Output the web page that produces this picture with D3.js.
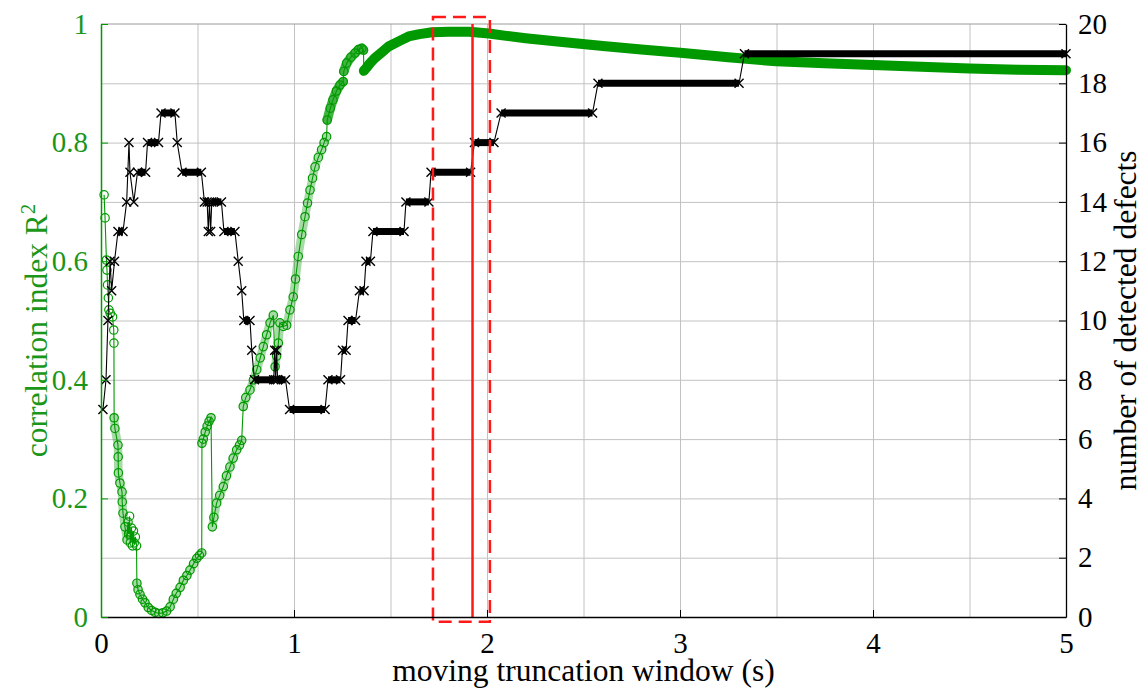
<!DOCTYPE html>
<html><head><meta charset="utf-8">
<script src="https://cdn.jsdelivr.net/npm/d3@7"></script>
<style>
body{margin:0;background:#fff}
svg{display:block}
text{font-family:"Liberation Serif","Times New Roman",serif}
</style>
</head><body>
<svg id="c" width="1148" height="689"></svg>
<script>
// ---------------- DATA ----------------
const r2Time = [0.016,0.021,0.028,0.031,0.034,0.038,0.041,0.048,0.060,0.066,0.067,
  0.068,0.072,0.088,0.089,0.090,0.098,0.109,0.110,0.114,0.124,0.135,
  0.140,0.143,0.148,0.152,0.158,0.163,0.168,0.172,0.178,0.184,
  0.186,0.192,0.202,0.215,0.228,0.245,0.262,0.280,0.300,0.320,0.340,0.358,0.375,0.390,0.410,0.427,0.445,0.461,0.480,0.496,0.510,0.522,
  0.523,0.530,0.540,0.550,0.560,0.570,
  0.577,0.585,0.599,0.615,0.634,0.650,0.668,0.685,0.703,0.718,0.729,
  0.737,0.750,0.772,0.790,0.807,0.825,0.841,0.858,0.876,0.893,
  0.902,0.910,0.919,0.927,0.945,
  0.962,0.979,0.996,1.008,1.022,1.040,1.057,1.070,1.083,1.096,1.109,1.126,1.143,1.156,1.169,
  1.172,1.188,1.202,1.220,1.238,1.255,
  1.258,1.273,1.295,1.316,1.335,1.351,1.360,
  1.362,1.375,1.394,1.420,1.450,1.490,1.550,1.594,1.650,1.715,1.800,1.907,2.010,2.100,2.200,2.378,2.600,2.800,3.016,3.250,3.500,3.750,4.000,4.250,4.500,4.750,5.000];
const r2Value = [0.712,0.673,0.602,0.585,0.560,0.538,0.518,0.512,0.506,0.484,0.462,
  0.336,0.318,0.290,0.270,0.243,0.226,0.211,0.194,0.175,0.152,0.130,
  0.160,0.140,0.170,0.125,0.150,0.120,0.145,0.125,0.135,0.120,
  0.057,0.046,0.038,0.030,0.024,0.016,0.011,0.008,0.006,0.007,0.010,0.017,0.030,0.040,0.050,0.062,0.070,0.079,0.090,0.099,0.104,0.108,
  0.293,0.300,0.312,0.322,0.330,0.336,
  0.152,0.168,0.192,0.205,0.220,0.238,0.253,0.268,0.282,0.290,0.298,
  0.355,0.370,0.383,0.400,0.417,0.437,0.456,0.476,0.496,0.509,
  0.422,0.440,0.462,0.496,0.490,
  0.492,0.518,0.540,0.570,0.608,0.645,0.675,0.698,0.720,0.740,0.759,0.775,0.788,0.800,0.810,
  0.838,0.858,0.872,0.887,0.897,0.903,
  0.920,0.934,0.944,0.951,0.957,0.959,0.956,
  0.921,0.926,0.934,0.943,0.951,0.962,0.972,0.979,0.983,0.986,0.987,0.987,0.984,0.980,0.976,0.970,0.963,0.957,0.951,0.944,0.937,0.934,0.931,0.928,0.925,0.923,0.922];
// time spans where the circle markers overlap into a chain, and the final solid band
const r2ChainSpans = [[0.068,0.135],[0.186,0.522],[0.523,0.570],[0.577,0.729],[0.737,0.893],[0.902,0.927],[0.962,1.169]];
const r2HeavySpans = [[1.172,1.255],[1.258,1.360]];
const r2BandFrom = 1.362;

const defectTime = [0.010,0.026,0.036,0.047,0.055,0.070,0.088,0.114,0.133,0.145,0.150,0.170,0.189,0.231,0.241,0.298,0.311,0.383,0.395,0.420,0.520,
  0.536,0.550,0.556,0.562,0.568,0.574,0.624,0.637,0.694,0.711,0.729,0.740,0.772,0.781,0.795,0.895,0.900,0.905,0.910,0.915,0.956,
  0.977,1.161,1.176,1.241,1.251,1.270,1.280,1.319,1.339,1.363,1.373,1.396,1.409,1.570,1.580,1.699,1.710,1.915,1.935,2.036,2.073,2.547,2.575,3.306,3.334,5.000];
const defectCount = [7,8,10,12,11,12,13,13,14,16,15,14,15,15,16,16,17,17,16,15,15,
  14,14,13,14,13,14,14,13,13,12,11,10,10,9,8,8,9,8,9,8,8,
  7,7,8,8,9,9,10,10,11,11,12,12,13,13,14,14,15,15,16,16,17,17,18,18,19,19];

const xTicks = [0,1,2,3,4,5];
const xGrid = [0.5,1,1.5,2,2.5,3,3.5,4,4.5];
const leftTicks = [0,0.2,0.4,0.6,0.8,1];
const leftTickLabels = ["0","0.2","0.4","0.6","0.8","1"];
const yGrid = [0.1,0.2,0.3,0.4,0.5,0.6,0.7,0.8,0.9];
const rightTicks = [0,2,4,6,8,10,12,14,16,18,20];
const windowRange = [1.72, 2.015];
const windowR2Range = [-0.008, 1.012];
const selectedTime = 1.925;

const xTitle = "moving truncation window (s)";
const leftTitle = "correlation index R";
const rightTitle = "number of detected defects";

// ---------------- LAYOUT ----------------
const M = {l:101, r:1066, t:24, b:617};
const GREEN = "#009900", GREEN_TXT = "#1a961a", RED = "#ff1a1a";
const TICK_FS = 29, TITLE_FS = 31.5;
const x = d3.scaleLinear().domain([0,5]).range([M.l, M.r]);
const yL = d3.scaleLinear().domain([0,1]).range([M.b, M.t]);
const yR = d3.scaleLinear().domain([0,20]).range([M.b, M.t]);
const svg = d3.select("#c");

// grid
const gx = svg.append("g").attr("transform",`translate(0,${M.b})`)
  .call(d3.axisBottom(x).tickValues(xGrid).tickSize(-(M.b-M.t)).tickFormat(""));
gx.select(".domain").remove();
gx.selectAll("line").attr("stroke","#c2c2c2").attr("stroke-width",1);
const gy = svg.append("g").attr("transform",`translate(${M.l},0)`)
  .call(d3.axisLeft(yL).tickValues(yGrid).tickSize(-(M.r-M.l)).tickFormat(""));
gy.select(".domain").remove();
gy.selectAll("line").attr("stroke","#c2c2c2").attr("stroke-width",1);

svg.append("line").attr("x1",x(0)).attr("x2",x(5)).attr("y1",yL(1)).attr("y2",yL(1))
  .attr("stroke","#9a9a9a").attr("stroke-width",1);

// ---------------- GREEN SERIES ----------------
const r2 = r2Time.map((t,i)=>({t, v:r2Value[i]}));
const lineL = d3.line().x(d=>x(d.t)).y(d=>yL(d.v));
const inSpan = (s)=>r2.filter(d=>d.t>=s[0] && d.t<=s[1]);
svg.append("path").attr("d",lineL(r2)).attr("fill","none").attr("stroke",GREEN).attr("stroke-width",1.1);
svg.append("g").selectAll("path").data(r2ChainSpans).join("path")
  .attr("d",s=>lineL(inSpan(s))).attr("fill","none").attr("stroke",GREEN)
  .attr("stroke-opacity",0.35).attr("stroke-width",8.5)
  .attr("stroke-linecap","round").attr("stroke-linejoin","round");
svg.append("g").selectAll("path").data(r2HeavySpans).join("path")
  .attr("d",s=>lineL(inSpan(s))).attr("fill","none").attr("stroke",GREEN)
  .attr("stroke-opacity",0.75).attr("stroke-width",9.5)
  .attr("stroke-linecap","round").attr("stroke-linejoin","round");
svg.append("g").selectAll("circle").data(r2.filter(d=>d.t<r2BandFrom)).join("circle")
  .attr("cx",d=>x(d.t)).attr("cy",d=>yL(d.v)).attr("r",4.2)
  .attr("fill","none").attr("stroke",GREEN).attr("stroke-width",1.2);
svg.append("path").attr("d",lineL(r2.filter(d=>d.t>=r2BandFrom)))
  .attr("fill","none").attr("stroke",GREEN).attr("stroke-width",10)
  .attr("stroke-linecap","round").attr("stroke-linejoin","round");

// ---------------- BLACK SERIES ----------------
const def = defectTime.map((t,i)=>({t, n:defectCount[i]}));
const lineR = d3.line().x(d=>x(d.t)).y(d=>yR(d.n));
svg.append("path").attr("d",lineR(def)).attr("fill","none").attr("stroke","#000").attr("stroke-width",1.1);
const plateaus = [];
for (let i=1;i<def.length;i++) if (def[i].n===def[i-1].n) plateaus.push([def[i-1],def[i]]);
svg.append("g").selectAll("line").data(plateaus).join("line")
  .attr("x1",d=>x(d[0].t)).attr("x2",d=>x(d[1].t))
  .attr("y1",d=>yR(d[0].n)).attr("y2",d=>yR(d[1].n))
  .attr("stroke","#000").attr("stroke-width",7);
svg.append("g").selectAll("path").data(def).join("path")
  .attr("transform",d=>`translate(${x(d.t)},${yR(d.n)})`)
  .attr("d","M-4.5,-4.5L4.5,4.5M-4.5,4.5L4.5,-4.5")
  .attr("stroke","#000").attr("stroke-width",1.4).attr("fill","none");

// ---------------- RED MARKUP ----------------
svg.append("rect")
  .attr("x",x(windowRange[0])).attr("width",x(windowRange[1])-x(windowRange[0]))
  .attr("y",yL(windowR2Range[1])).attr("height",yL(windowR2Range[0])-yL(windowR2Range[1]))
  .attr("fill","none").attr("stroke",RED).attr("stroke-width",2.5).attr("stroke-dasharray","13,7");
svg.append("line").attr("x1",x(selectedTime)).attr("x2",x(selectedTime))
  .attr("y1",yL(0)).attr("y2",yL(1)).attr("stroke",RED).attr("stroke-width",2.5);

// ---------------- AXES ----------------
const ax = svg.append("g").attr("transform",`translate(0,${M.b})`)
  .call(d3.axisBottom(x).tickValues(xTicks).tickSize(-7).tickSizeOuter(0).tickPadding(15).tickFormat(d3.format("d")));
ax.select(".domain").attr("stroke","#000").attr("stroke-width",1.3);
ax.selectAll("line").attr("stroke","#000");
ax.selectAll("text").attr("font-size",TICK_FS).attr("fill","#000").attr("font-family","Liberation Serif");

const al = svg.append("g").attr("transform",`translate(${M.l},0)`)
  .call(d3.axisLeft(yL).tickValues(leftTicks).tickSize(-7).tickSizeOuter(0).tickPadding(13)
    .tickFormat((d,i)=>leftTickLabels[i]));
al.select(".domain").attr("stroke",GREEN).attr("stroke-width",1.5);
al.selectAll("line").attr("stroke",GREEN);
al.selectAll("text").attr("font-size",TICK_FS).attr("fill",GREEN_TXT).attr("font-family","Liberation Serif");

const ar = svg.append("g").attr("transform",`translate(${M.r},0)`)
  .call(d3.axisRight(yR).tickValues(rightTicks).tickSize(-7).tickSizeOuter(0).tickPadding(12).tickFormat(d3.format("d")));
ar.select(".domain").attr("stroke","#000").attr("stroke-width",1.3);
ar.selectAll("line").attr("stroke","#000");
ar.selectAll("text").attr("font-size",TICK_FS).attr("fill","#000").attr("font-family","Liberation Serif");

// titles
svg.append("text").attr("x",(M.l+M.r)/2).attr("y",681).attr("text-anchor","middle")
  .attr("font-size",TITLE_FS).attr("fill","#000").text(xTitle);
const lt = svg.append("text").attr("transform",`translate(47,${(M.t+M.b)/2+10}) rotate(-90)`)
  .attr("text-anchor","middle").attr("font-size",TITLE_FS).attr("fill",GREEN_TXT);
lt.append("tspan").text(leftTitle);
lt.append("tspan").attr("dy",-12).attr("font-size",21).text("2");
svg.append("text").attr("transform",`translate(1136,${(M.t+M.b)/2}) rotate(-90)`)
  .attr("text-anchor","middle").attr("font-size",TITLE_FS).attr("fill","#000").text(rightTitle);
</script>
</body></html>
